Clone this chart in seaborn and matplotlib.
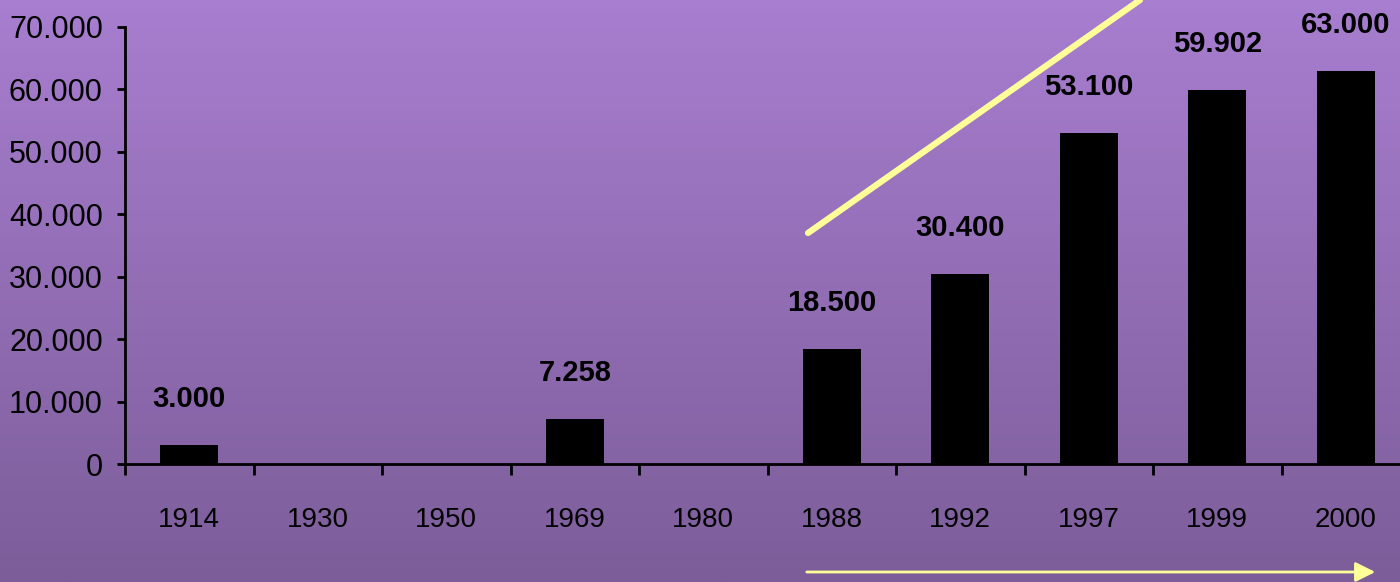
import numpy as np
import pandas as pd
import matplotlib.pyplot as plt
import seaborn as sns
from matplotlib.ticker import FuncFormatter, FixedLocator
from matplotlib.lines import Line2D
from matplotlib.patches import FancyArrowPatch

# dati
anni = ['1914', '1930', '1950', '1969', '1980', '1988', '1992', '1997', '1999', '2000']
valori = [3000, 0, 0, 7258, 0, 18500, 30400, 53100, 59902, 63000]
etichette = ['3.000', '', '', '7.258', '', '18.500', '30.400', '53.100', '59.902', '63.000']

df = pd.DataFrame({'anno': anni, 'valore': valori})

sns.set_style('white')
plt.rcParams['font.family'] = ['Liberation Sans', 'DejaVu Sans']

fig = plt.figure(figsize=(14, 5.82), dpi=100)

# sfondo sfumato viola
bg = fig.add_axes([0, 0, 1, 1], zorder=-10)
top = np.array([168, 126, 208]) / 255
bottom = np.array([124, 93, 153]) / 255
t = np.linspace(0, 1, 256)[:, None]
grad = (top * (1 - t) + bottom * t)[:, None, :]
bg.imshow(grad, aspect='auto', extent=[0, 1, 0, 1])
bg.set_axis_off()

ax = fig.add_axes([125 / 1400, 1 - 464 / 582, 1285 / 1400, (464 - 27) / 582])
ax.patch.set_alpha(0)
sns.barplot(data=df, x='anno', y='valore', color='black', saturation=1, width=0.45,
            edgecolor='black', linewidth=0, ax=ax)

ax.set_xlim(-0.5, 9.5)
ax.set_ylim(0, 70000)
ax.set_yticks(range(0, 70001, 10000))
ax.yaxis.set_major_formatter(FuncFormatter(lambda v, p: f"{int(v):,}".replace(',', '.')))
ax.set_xlabel('')
ax.set_ylabel('')

for s in ['top', 'right']:
    ax.spines[s].set_visible(False)
for s in ['left', 'bottom']:
    ax.spines[s].set_linewidth(2)
    ax.spines[s].set_color('black')

ax.tick_params(axis='y', which='major', left=True, length=6, width=2, labelsize=22, pad=10,
               color='black', labelcolor='black')
ax.tick_params(axis='x', which='major', bottom=False, length=0, labelsize=20, pad=31,
               labelcolor='black')
ax.xaxis.set_minor_locator(FixedLocator(np.arange(-0.5, 10, 1)))
ax.tick_params(axis='x', which='minor', bottom=True, length=8, width=2, color='black')

# etichette sopra le barre
for i, (v, lab) in enumerate(zip(valori, etichette)):
    if lab:
        ax.annotate(lab, (i, v), xytext=(0, 33), textcoords='offset points',
                    ha='center', va='center', fontsize=21, fontweight='bold', color='black')

# linea gialla diagonale e freccia
fig.add_artist(Line2D([808 / 1400, 1140 / 1400], [1 - 233 / 582, 1.0],
                      color='#ffff99', linewidth=4.5, transform=fig.transFigure))
fig.add_artist(FancyArrowPatch((804 / 1400, 1 - 572 / 582), (1378 / 1400, 1 - 572 / 582),
                               transform=fig.transFigure, arrowstyle='-|>,head_length=12,head_width=6',
                               color='#ffff99', linewidth=2, mutation_scale=1))

plt.savefig('out.png', dpi=100)
